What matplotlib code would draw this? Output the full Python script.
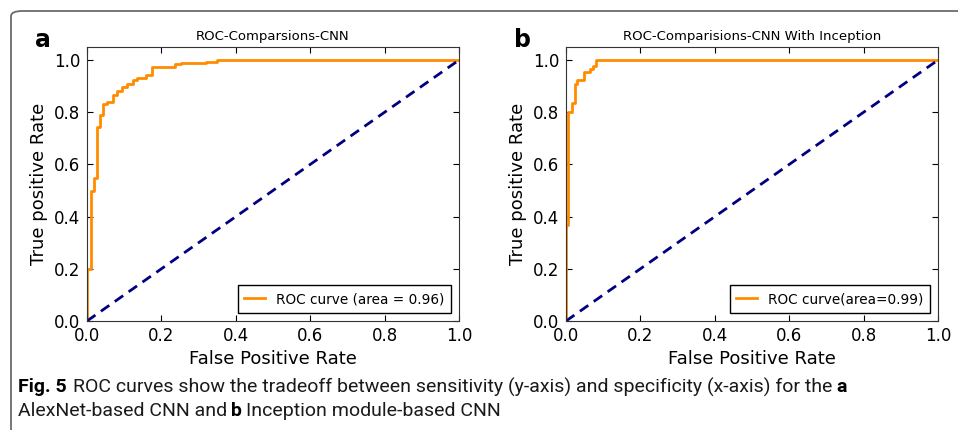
import matplotlib
matplotlib.use("Agg")
import matplotlib.pyplot as plt
from matplotlib.patches import FancyBboxPatch

# ROC curve points (panel a: AlexNet CNN, panel b: with Inception)
fpr_a = [0.0, 0.0, 0.010, 0.010, 0.019, 0.019, 0.028, 0.028, 0.035, 0.035, 0.043, 0.043,
         0.053, 0.053, 0.070, 0.070, 0.080, 0.080, 0.094, 0.094, 0.107, 0.107, 0.124, 0.124,
         0.134, 0.134, 0.158, 0.158, 0.175, 0.175, 0.237, 0.237, 0.252, 0.252, 0.320, 0.320,
         0.349, 0.349, 1.0]
tpr_a = [0.0, 0.200, 0.200, 0.500, 0.500, 0.547, 0.547, 0.744, 0.744, 0.790, 0.790, 0.830,
         0.830, 0.840, 0.840, 0.866, 0.866, 0.880, 0.880, 0.897, 0.897, 0.908, 0.908, 0.925,
         0.925, 0.932, 0.932, 0.943, 0.943, 0.975, 0.975, 0.983, 0.983, 0.987, 0.987, 0.993,
         0.993, 1.0, 1.0]

fpr_b = [0.0, 0.0, 0.005, 0.005, 0.015, 0.015, 0.024, 0.024, 0.030, 0.030, 0.048, 0.048,
         0.065, 0.065, 0.072, 0.072, 0.081, 0.081, 1.0]
tpr_b = [0.0, 0.366, 0.366, 0.800, 0.800, 0.837, 0.837, 0.907, 0.907, 0.922, 0.922, 0.955,
         0.955, 0.964, 0.964, 0.977, 0.977, 1.0, 1.0]

titulos = ["ROC-Comparsions-CNN", "ROC-Comparisions-CNN With Inception"]
legendas = ["ROC curve (area = 0.96)", "ROC curve(area=0.99)"]
letras = ["a", "b"]
ticks = [0.0, 0.2, 0.4, 0.6, 0.8, 1.0]

fig = plt.figure(figsize=(9.58, 4.30), dpi=100)

# moldura com canto arredondado (sai pela direita e por baixo)
moldura = FancyBboxPatch((11 / 958, -0.2), 1.2, 0.2 + 1 - 11 / 430,
                         boxstyle="round,pad=0,rounding_size=0.012",
                         transform=fig.transFigure, fill=False,
                         edgecolor="#6b6b6b", linewidth=1.3, clip_on=False)
fig.patches.append(moldura)

ax_a = fig.add_axes([87 / 958, 1 - 321 / 430, 372 / 958, 274 / 430])
ax_b = fig.add_axes([566 / 958, 1 - 321 / 430, 372 / 958, 274 / 430])

for ax, fpr, tpr, tit, leg, letra in zip([ax_a, ax_b], [fpr_a, fpr_b], [tpr_a, tpr_b],
                                        titulos, legendas, letras):
    ax.plot(fpr, tpr, color="darkorange", lw=2, label=leg)
    ax.plot([0, 1], [0, 1], color="navy", lw=2, linestyle=(0, (3.7, 2.4)))
    ax.set_xlim(0.0, 1.0)
    ax.set_ylim(0.0, 1.05)
    ax.set_xticks(ticks)
    ax.set_yticks(ticks)
    ax.tick_params(direction="in", top=True, right=True, labelsize=12, length=4)
    ax.tick_params(axis="x", pad=4)
    ax.tick_params(axis="y", pad=5)
    ax.set_xlabel("False Positive Rate", fontsize=13, labelpad=4)
    ax.set_ylabel("True positive Rate", fontsize=13, labelpad=4)
    ax.set_title(tit, fontsize=9.5, pad=5)
    for s in ax.spines.values():
        s.set_color("#333333")
    l = ax.legend(loc="lower right", fontsize=9.8, fancybox=False, framealpha=1,
                  edgecolor="black", borderaxespad=0.6, handlelength=1.5,
                  borderpad=0.5)
    l.get_frame().set_linewidth(1.0)
    pos = ax.get_position()
    fig.text(pos.x0 - 52 / 958, 1 - 40 / 430, letra, fontsize=17, fontweight="bold",
             ha="left", va="center", family="DejaVu Sans")

# legenda da figura
fonte_cap = ["Roboto", "DejaVu Sans"]
tam = 14
y1 = 1 - 387 / 430
y2 = 1 - 411 / 430
t = fig.text(18 / 958, y1, "Fig. 5", fontsize=tam, fontweight="bold", family=fonte_cap,
             va="center", ha="left")
fig.canvas.draw()
r = fig.canvas.get_renderer()
bb = t.get_window_extent(r)
t2 = fig.text((bb.x1 + 6) / 958, y1,
              "ROC curves show the tradeoff between sensitivity (y-axis) and specificity (x-axis) for the",
              fontsize=tam, family=fonte_cap, va="center", ha="left", color="#1a1a1a")
bb2 = t2.get_window_extent(r)
fig.text((bb2.x1 + 4) / 958, y1, "a", fontsize=tam, fontweight="bold", family=fonte_cap,
         va="center", ha="left")
t3 = fig.text(18 / 958, y2, "AlexNet-based CNN and", fontsize=tam, family=fonte_cap,
              va="center", ha="left", color="#1a1a1a")
bb3 = t3.get_window_extent(r)
t4 = fig.text((bb3.x1 + 4) / 958, y2, "b", fontsize=tam, fontweight="bold", family=fonte_cap,
              va="center", ha="left")
bb4 = t4.get_window_extent(r)
fig.text((bb4.x1 + 4) / 958, y2, "Inception module-based CNN", fontsize=tam, family=fonte_cap,
         va="center", ha="left", color="#1a1a1a")

fig.savefig("out.png", dpi=100)
